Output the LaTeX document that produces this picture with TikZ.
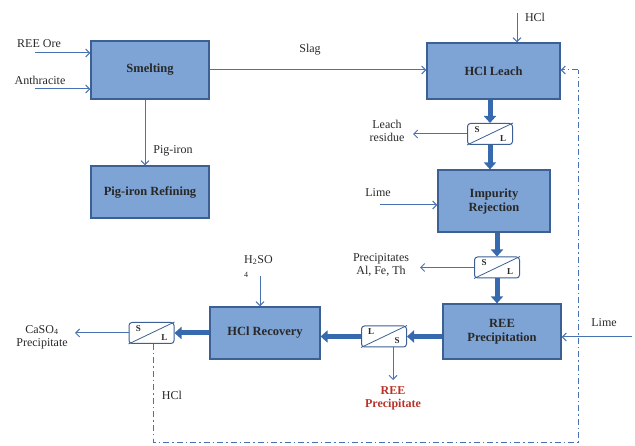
\documentclass[tikz,border=0pt]{standalone}
\usepackage{fontspec}
\setmainfont{Liberation Serif}
\usetikzlibrary{arrows.meta}
\definecolor{boxfill}{RGB}{126,164,214}
\definecolor{boxline}{RGB}{60,95,148}
\definecolor{arr}{RGB}{72,115,178}
\definecolor{thickc}{RGB}{55,105,175}
\definecolor{txt}{RGB}{40,40,40}
\definecolor{redt}{RGB}{185,50,40}
\newcommand{\sepbox}[4]{%
  \node[sepst] (#1) at (#2) {};
  \draw[boxline, line width=0.8pt] (#1.south west) -- (#1.north east);
  \node[seplbl] at ([xshift=10pt,yshift=-6.5pt]#1.north west) {#3};
  \node[seplbl] at ([xshift=-10pt,yshift=6.5pt]#1.south east) {#4};}
\begin{document}
\begin{tikzpicture}[x=1pt,y=-1pt,
  proc/.style={draw=boxline, line width=1.2pt, fill=boxfill, text=txt,
    font=\bfseries\fontsize{12.5}{14}\selectfont, align=center, inner sep=0pt},
  sepst/.style={draw=boxline, line width=1pt, fill=white, rounded corners=3pt,
    minimum width=45pt, minimum height=21pt, inner sep=0pt},
  seplbl/.style={font=\bfseries\fontsize{9}{10}\selectfont, text=txt, inner sep=0pt},
  lbl/.style={font=\fontsize{12}{13}\selectfont, text=txt, align=center, inner sep=0pt},
  thin/.style={draw=arr, line width=1pt, -{Straight Barb[length=4pt,width=8pt]}},
  thick/.style={draw=thickc, line width=5pt, -{Triangle[length=7pt,width=12pt]}},
  dd/.style={draw=arr, line width=1pt, dash pattern=on 6pt off 3pt on 1.5pt off 3pt}
]
\useasboundingbox (0,0) rectangle (635,446);

% process boxes
\node[proc, minimum width=118pt, minimum height=58pt] (smelt) at (150,70) {Smelting};
\node[proc, minimum width=118pt, minimum height=52pt] (pig) at (150,192) {Pig-iron Refining};
\node[proc, minimum width=133pt, minimum height=56pt] (leach) at (493.5,71) {HCl Leach};
\node[proc, minimum width=112pt, minimum height=62pt] (imp) at (494,201) {Impurity\\Rejection};
\node[proc, minimum width=118pt, minimum height=55pt] (reep) at (502,331.5) {REE\\Precipitation};
\node[proc, minimum width=110pt, minimum height=52pt] (hclr) at (265,333) {HCl Recovery};

% separators
\sepbox{sa}{490,134}{S}{L}
\sepbox{sb}{497,267.5}{S}{L}
\sepbox{sc}{384,336.5}{L}{S}
\sepbox{sd}{151.5,333}{S}{L}

% coordinates
\coordinate (ore) at (35,53);
\coordinate (anth) at (35,89);
\coordinate (hcltop) at (517,13);
\coordinate (resid) at (413,134);
\coordinate (lime1) at (380,205);
\coordinate (precs) at (420,267.5);
\coordinate (lime2) at (632,337);
\coordinate (reeout) at (393,380);
\coordinate (h2so4) at (260,276);
\coordinate (caso4) at (75,333);
\coordinate (b1) at (153,442);
\coordinate (b2) at (578,442);
\coordinate (b3) at (578,70);

% labels
\node[lbl] at (39,44) {REE Ore};
\node[lbl] at (40,80) {Anthracite};
\node[lbl] at (310,50) {Slag};
\node[lbl] at (173,151) {Pig-iron};
\node[lbl] at (535,17) {HCl};
\node[lbl] at (387,131) {Leach\\residue};
\node[lbl] at (378,193) {Lime};
\node[lbl] at (381,265) {Precipitates\\Al, Fe, Th};
\node[lbl] at (604,323) {Lime};
\node[lbl, font=\bfseries\fontsize{12}{13}\selectfont, text=redt] at (393,398) {REE\\Precipitate};
\node[lbl, align=left, anchor=north west] at (244,255) {H\textsubscript{2}SO\\\textsubscript{4}};
\node[lbl] at (42,337) {CaSO\textsubscript{4}\\Precipitate};
\node[lbl] at (172,395) {HCl};

% thin arrows
\draw[thin] (ore) -- (ore -| smelt.west);
\draw[thin] (anth) -- (anth -| smelt.west);
\draw[thin] (smelt.east) -- (leach.west |- smelt.east);
\draw[thin] (smelt.south -| 145,0) -- (pig.north -| 145,0);
\draw[thin] (hcltop) -- (hcltop |- leach.north);
\draw[thin] (sa.west) -- (resid);
\draw[thin] (lime1) -- (lime1 -| imp.west);
\draw[thin] (sb.west) -- (precs);
\draw[thin] (lime2) -- (lime2 -| reep.east);
\draw[thin] (sc.south -| reeout) -- (reeout);
\draw[thin] (h2so4) -- (h2so4 |- hclr.north);
\draw[thin] (sd.west) -- (caso4);

% thick arrows
\draw[thick] (leach.south -| sa.north) -- (sa.north);
\draw[thick] (sa.south) -- (imp.north -| sa.south);
\draw[thick] (imp.south -| sb.north) -- (sb.north);
\draw[thick] (sb.south) -- (reep.north -| sb.south);
\draw[thick] (reep.west |- sc.east) -- (sc.east);
\draw[thick] (sc.west) -- (hclr.east |- sc.west);
\draw[thick] (hclr.west |- sd.east) -- (sd.east);

% recycle HCl
\draw[dd] (sd.south -| b1) -- (b1) -- (b2) -- (b3);
\draw[thin, dd] (b3) -- (b3 -| leach.east);
\end{tikzpicture}
\end{document}
